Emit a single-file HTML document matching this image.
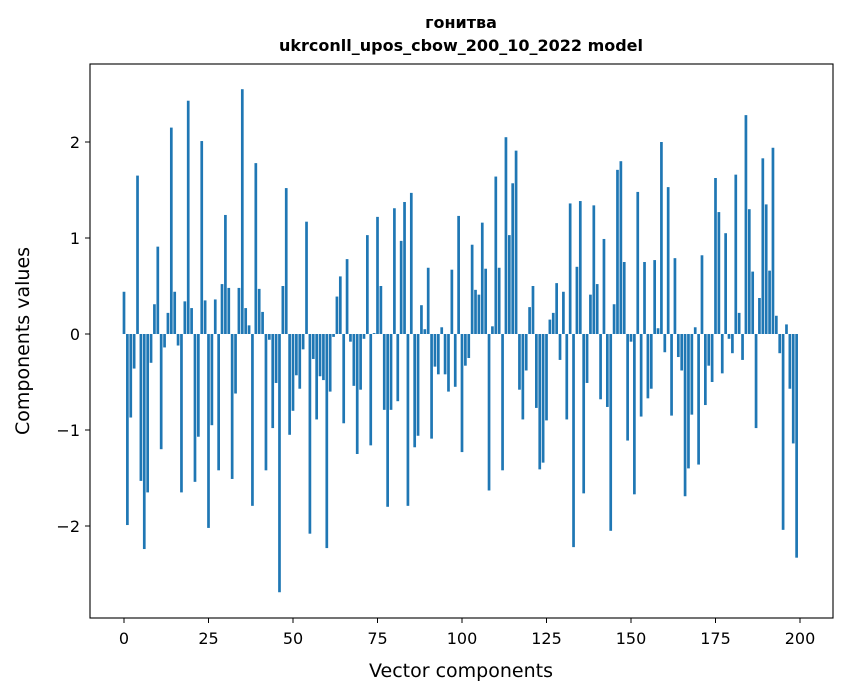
<!DOCTYPE html>
<html><head><meta charset="utf-8"><style>
body{margin:0;background:#fff;}
svg{display:block;font-family:"DejaVu Sans","Liberation Sans",sans-serif;}
</style></head><body>
<svg id="chart" width="847" height="696">
<text x="461" y="28" text-anchor="middle" font-weight="bold" font-size="16">гонитва</text>
<text x="461" y="51" text-anchor="middle" font-weight="bold" font-size="16">ukrconll_upos_cbow_200_10_2022 model</text>
<g id="bars"></g>
<g id="axes"></g>
<rect x="90" y="64" width="743" height="554" fill="none" stroke="#000" stroke-width="1.1"/>
<text x="461" y="677" text-anchor="middle" font-size="19">Vector components</text>
<text transform="translate(29,341) rotate(-90)" text-anchor="middle" font-size="19">Components values</text>
</svg>
<script>
const values=[0.44,-1.99,-0.87,-0.36,1.65,-1.53,-2.24,-1.65,-0.30,0.31,
0.91,-1.20,-0.14,0.22,2.15,0.44,-0.12,-1.65,0.34,2.43,
0.27,-1.54,-1.07,2.01,0.35,-2.02,-0.95,0.36,-1.42,0.52,
1.24,0.48,-1.51,-0.62,0.48,2.55,0.27,0.09,-1.79,1.78,
0.47,0.23,-1.42,-0.06,-0.98,-0.51,-2.69,0.50,1.52,-1.05,
-0.80,-0.43,-0.57,-0.16,1.17,-2.08,-0.26,-0.89,-0.44,-0.48,
-2.23,-0.60,-0.03,0.39,0.60,-0.93,0.78,-0.08,-0.54,-1.25,
-0.58,-0.05,1.03,-1.16,0.01,1.22,0.50,-0.79,-1.80,-0.79,
1.31,-0.70,0.97,1.375,-1.79,1.47,-1.18,-1.06,0.30,0.05,
0.69,-1.09,-0.34,-0.42,0.07,-0.42,-0.60,0.67,-0.55,1.23,
-1.23,-0.33,-0.25,0.93,0.46,0.41,1.16,0.68,-1.63,0.08,
1.64,0.69,-1.42,2.05,1.03,1.57,1.91,-0.58,-0.89,-0.38,
0.28,0.50,-0.77,-1.41,-1.34,-0.90,0.15,0.22,0.53,-0.27,
0.44,-0.89,1.36,-2.22,0.70,1.385,-1.66,-0.51,0.41,1.34,
0.52,-0.68,0.99,-0.76,-2.05,0.31,1.71,1.80,0.75,-1.11,
-0.08,-1.67,1.48,-0.86,0.75,-0.67,-0.57,0.77,0.06,2.00,
-0.19,1.53,-0.85,0.79,-0.24,-0.38,-1.69,-1.40,-0.84,0.07,
-1.36,0.82,-0.74,-0.33,-0.50,1.625,1.27,-0.41,1.05,-0.05,
-0.20,1.66,0.22,-0.27,2.28,1.30,0.65,-0.98,0.375,1.83,
1.35,0.66,1.94,0.19,-0.20,-2.04,0.10,-0.57,-1.14,-2.33];
const xTicks=[0,25,50,75,100,125,150,175,200];
const yTicks=[-2,-1,0,1,2];
const xAt=v=>124+v*3.38;
const yAt=v=>334-v*96;
const NS="http://www.w3.org/2000/svg";
const bars=document.getElementById('bars');
values.forEach((v,i)=>{
  const r=document.createElementNS(NS,'rect');
  const x0=xAt(i-0.4), x1=xAt(i+0.4);
  r.setAttribute('x',x0);
  r.setAttribute('width',x1-x0);
  r.setAttribute('y',Math.min(yAt(v),yAt(0)));
  r.setAttribute('height',Math.abs(yAt(v)-yAt(0)));
  r.setAttribute('fill','#1f77b4');
  
  
  bars.appendChild(r);
});
const axes=document.getElementById('axes');
xTicks.forEach(t=>{
  const l=document.createElementNS(NS,'line');
  l.setAttribute('x1',xAt(t));l.setAttribute('x2',xAt(t));
  l.setAttribute('y1',618);l.setAttribute('y2',623);
  l.setAttribute('stroke','#000');
  
  
  axes.appendChild(l);
  const tx=document.createElementNS(NS,'text');
  tx.setAttribute('x',xAt(t));tx.setAttribute('y',644);
  tx.setAttribute('text-anchor','middle');tx.setAttribute('font-size','16');
  tx.textContent=t;
  
  
  axes.appendChild(tx);
});
yTicks.forEach(t=>{
  const l=document.createElementNS(NS,'line');
  l.setAttribute('x1',85);l.setAttribute('x2',90);
  l.setAttribute('y1',yAt(t));l.setAttribute('y2',yAt(t));
  l.setAttribute('stroke','#000');
  
  
  axes.appendChild(l);
  const tx=document.createElementNS(NS,'text');
  tx.setAttribute('x',80);tx.setAttribute('y',yAt(t)+6);
  tx.setAttribute('text-anchor','end');tx.setAttribute('font-size','16');
  tx.textContent=t<0?'\u2212'+Math.abs(t):t;
  
  
  axes.appendChild(tx);
});
</script>
</body></html>
